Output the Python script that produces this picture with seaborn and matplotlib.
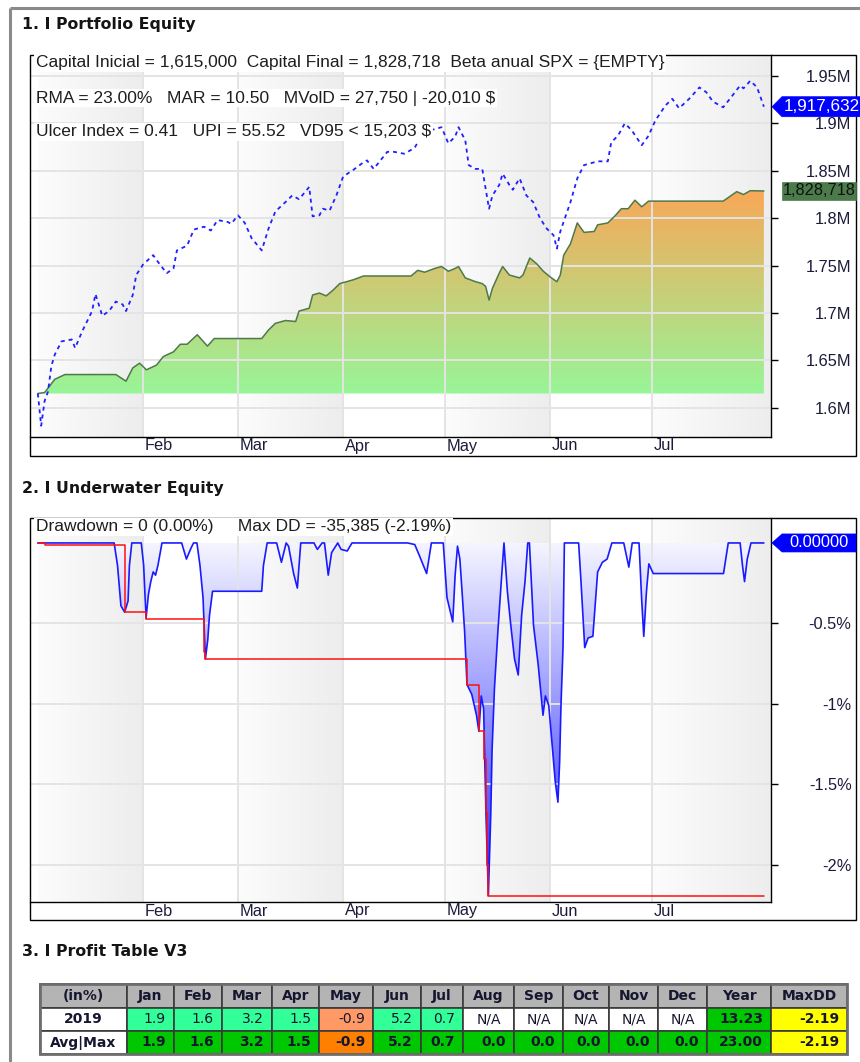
import numpy as np
import pandas as pd
import matplotlib
matplotlib.use('Agg')
import matplotlib.pyplot as plt
import matplotlib.dates as mdates
from matplotlib.colors import LinearSegmentedColormap
from matplotlib.patches import Rectangle, Polygon
import seaborn as sns

sns.set_style('white')
plt.rcParams['font.family'] = ['Liberation Sans', 'DejaVu Sans']

# ---------------- data ----------------
# days counted from 2019-01-01
eq_day = [0, 2, 5, 8, 23, 26, 28, 30, 32, 35, 37, 40, 42, 44, 47, 50, 52, 66, 68, 70,
          73, 76, 77, 80, 81, 83, 85, 87, 89, 93, 96, 110, 112, 114, 117, 119, 121, 123, 124, 126,
          129, 131, 132, 133, 134, 136, 137, 139, 142, 143, 145, 147, 149, 151, 153, 154, 155, 157, 159, 161,
          164, 165, 168, 170, 172, 174, 176, 178, 180, 202, 204, 206, 208, 210, 214]
eq_val = [1615000, 1616000, 1630000, 1635000, 1635000, 1628000, 1642000, 1647000, 1640000, 1645000,
          1654000, 1659000, 1667000, 1667000, 1677000, 1665000, 1673000, 1673000, 1682000, 1689000,
          1692000, 1691000, 1702000, 1705000, 1719000, 1721000, 1718000, 1724000, 1731000, 1735000,
          1739000, 1739000, 1745000, 1743000, 1747000, 1749000, 1744000, 1747000, 1749000, 1737000,
          1733000, 1731000, 1728000, 1713600, 1726000, 1742000, 1749000, 1740000, 1737000, 1740000,
          1758000, 1752000, 1744000, 1738000, 1733000, 1740000, 1761000, 1773000, 1795000, 1785000,
          1786000, 1793000, 1795000, 1802000, 1810000, 1810000, 1819000, 1812000, 1818000, 1818000,
          1823000, 1828000, 1825000, 1829000, 1828718]

bench_day = [0, 1, 2, 3, 4, 5, 7, 10, 11, 13, 16, 17, 19, 21, 23, 25, 26, 28, 29, 31,
             34, 36, 38, 40, 41, 44, 46, 49, 51, 53, 56, 57, 59, 61, 63, 66, 68, 70, 73, 75,
             77, 80, 81, 83, 84, 86, 88, 90, 93, 96, 97, 99, 101, 103, 105, 108, 111, 113, 116, 119,
             121, 123, 124, 126, 127, 129, 131, 133, 134, 136, 137, 139, 140, 142, 144, 146, 148, 150, 152, 153,
             154, 157, 159, 161, 163, 165, 168, 169, 171, 173, 175, 178, 180, 182, 185, 187, 189, 192, 195, 197,
             199, 202, 204, 207, 208, 210, 212, 214]
bench_val = [1615000, 1581000, 1607000, 1617000, 1644000, 1656000, 1670000, 1672000, 1663000, 1680000,
             1702000, 1720000, 1697000, 1702000, 1712000, 1709000, 1702000, 1719000, 1740000, 1751000,
             1761000, 1751000, 1742000, 1747000, 1766000, 1771000, 1788000, 1791000, 1787000, 1798000,
             1796000, 1794000, 1803000, 1795000, 1779000, 1766000, 1789000, 1807000, 1817000, 1824000,
             1820000, 1833000, 1802000, 1803000, 1810000, 1808000, 1824000, 1844000, 1851000, 1859000,
             1861000, 1852000, 1861000, 1870000, 1870000, 1868000, 1874000, 1886000, 1893000, 1896000,
             1879000, 1886000, 1896000, 1882000, 1856000, 1852000, 1852000, 1810000, 1824000, 1835000,
             1847000, 1835000, 1830000, 1842000, 1824000, 1817000, 1800000, 1789000, 1782000, 1768000,
             1786000, 1817000, 1842000, 1856000, 1858000, 1860000, 1860000, 1880000, 1887000, 1900000,
             1893000, 1877000, 1887000, 1903000, 1919000, 1926000, 1916000, 1926000, 1938000, 1933000,
             1923000, 1917000, 1926000, 1940000, 1937000, 1945000, 1938000, 1917632]

dd_day = [0.0, 22.5, 23.5, 24.5, 25.6, 26.6, 27.0, 27.7, 30.5, 31.2,
          31.9, 32.6, 33.3, 34.0, 34.7, 35.4, 36.6, 42.4, 43.8, 45.2,
          45.9, 46.9, 47.8, 48.7, 49.4, 50.1, 50.6, 51.5, 66.0, 66.5,
          67.6, 70.4, 71.8, 73.2, 73.9, 75.4, 76.5, 77.5, 81.4, 82.4,
          83.8, 84.5, 85.6, 86.6, 88.4, 89.4, 91.2, 92.6, 109.0, 111.1,
          112.5, 114.6, 116.0, 119.5, 120.6, 122.3, 123.0, 123.7, 124.4, 125.1,
          125.8, 126.5, 127.9, 129.3, 130.0, 130.7, 131.4, 132.1, 132.8, 133.5,
          133.9, 134.6, 135.6, 136.6, 137.4, 138.4, 139.4, 140.5, 141.6, 142.6,
          143.6, 144.4, 144.9, 146.1, 147.5, 148.9, 149.6, 150.6, 151.7, 152.5,
          153.3, 153.8, 154.2, 154.8, 155.2, 159.4, 160.1, 161.2, 162.2, 163.6,
          165.0, 166.4, 167.8, 169.2, 172.7, 174.2, 175.2, 177.2, 178.0, 178.6,
          179.4, 180.1, 181.4, 202.1, 203.5, 207.0, 207.7, 208.3, 209.1, 210.2,
          214.0]
dd_pct = [0, 0, -0.14, -0.39, -0.43, -0.36, -0.14, 0, 0, -0.14,
          -0.47, -0.32, -0.24, -0.18, -0.20, -0.14, 0, 0, -0.10, -0.03,
          0, 0, -0.14, -0.34, -0.72, -0.60, -0.45, -0.30, -0.30, -0.14,
          0, 0, -0.12, 0, -0.02, -0.19, -0.28, 0, 0, -0.04,
          0, 0, -0.20, -0.06, 0, -0.04, -0.05, 0, 0, -0.01,
          -0.08, -0.19, 0, 0, -0.34, -0.49, -0.20, -0.02, -0.10, -0.32,
          -0.55, -0.88, -0.94, -1.07, -1.17, -0.95, -1.03, -1.69, -2.19, -1.69,
          -1.28, -0.90, -0.55, -0.24, 0, -0.30, -0.51, -0.72, -0.82, -0.45,
          -0.24, 0, 0, -0.51, -0.76, -1.07, -0.95, -1.01, -1.28, -1.48,
          -1.61, -1.36, -1.01, -0.65, 0, 0, -0.24, -0.65, -0.59, -0.58,
          -0.18, -0.12, -0.10, 0, 0, -0.15, 0, 0, -0.36, -0.58,
          -0.30, -0.13, -0.19, -0.19, 0, 0, -0.14, -0.24, -0.10, 0,
          0]

maxdd_day = [0.0, 2.0, 25.6, 31.9, 49.0, 49.4, 126.5, 130.0, 131.6, 132.1, 132.5, 132.8, 214.0]
maxdd_pct = [0, -0.01, -0.43, -0.47, -0.68, -0.72, -0.88, -1.17, -1.34, -1.67, -2.00, -2.19, -2.19]

capital_inicial = 1615000

table_header = ['(in%)', 'Jan', 'Feb', 'Mar', 'Apr', 'May', 'Jun', 'Jul',
                'Aug', 'Sep', 'Oct', 'Nov', 'Dec', 'Year', 'MaxDD']
months_2019 = [1.9, 1.6, 3.2, 1.5, -0.9, 5.2, 0.7, None, None, None, None, None]
year_2019 = 13.23
maxdd_2019 = -2.19
months_avg = [1.9, 1.6, 3.2, 1.5, -0.9, 5.2, 0.7, 0.0, 0.0, 0.0, 0.0, 0.0]
year_avg = 23.00
maxdd_avg = -2.19

# ---------------- layout ----------------
W, H = 860, 1062
start = pd.Timestamp('2019-01-01')
month_starts = pd.date_range('2019-01-01', '2019-08-01', freq='MS')
x_lo = mdates.date2num(start - pd.Timedelta(days=2.3))
x_hi = mdates.date2num(start + pd.Timedelta(days=216.1))
label_color = '#1c1c3a'
txt_size = 11.8


def to_dates(days):
    return start + pd.to_timedelta(np.asarray(days, dtype=float), unit='D')


def px_rect(x0, y0, x1, y1):
    return [x0 / W, 1 - y1 / H, (x1 - x0) / W, (y1 - y0) / H]


band_cmap = LinearSegmentedColormap.from_list('band', ['#fcfcfc', '#ededed'])
band_grad = np.linspace(0, 1, 64).reshape(1, -1)


def dress_axes(ax, ylim, yticks, ylabels):
    for i in range(0, 7, 2):
        b0 = max(mdates.date2num(month_starts[i]), x_lo)
        b1 = x_hi if i == 6 else mdates.date2num(month_starts[i + 1])
        ax.imshow(band_grad, extent=[b0, b1, ylim[0], ylim[1]], cmap=band_cmap,
                  aspect='auto', zorder=0, interpolation='bicubic')
    ax.set_xlim(x_lo, x_hi)
    ax.set_ylim(*ylim)
    ax.set_axisbelow(True)
    ax.grid(True, color='#e4e4e4', lw=1.4)
    ax.set_xticks(mdates.date2num(month_starts[1:7]))
    ax.set_xticklabels([])
    ax.tick_params(axis='x', direction='out', length=5, width=1, color='black')
    ax.yaxis.tick_right()
    ax.set_yticks(yticks)
    ax.set_yticklabels(ylabels)
    ax.tick_params(axis='y', direction='out', length=5, width=1, color='black',
                   pad=53, labelsize=txt_size, labelcolor=label_color)
    for lab in ax.get_yticklabels():
        lab.set_horizontalalignment('right')
    for s in ['left', 'top']:
        ax.spines[s].set_visible(False)
    for s in ['right', 'bottom']:
        ax.spines[s].set_color('black')
        ax.spines[s].set_linewidth(1)
    ax.set_xlabel('')
    ax.set_ylabel('')


fig = plt.figure(figsize=(W / 100, H / 100), dpi=100)

# ---------------- 1. Portfolio equity ----------------
ax1 = fig.add_axes(px_rect(30, 55, 771, 437))
eq_x = to_dates(eq_day)
poly = ax1.fill_between(eq_x, capital_inicial, eq_val, color='none', lw=0)
eq_cmap = LinearSegmentedColormap.from_list('eq', ['#98f598', '#f8a858'])
grad = np.linspace(0, 1, 256).reshape(-1, 1)
im = ax1.imshow(grad, extent=[mdates.date2num(eq_x[0]), mdates.date2num(eq_x[-1]),
                              capital_inicial, max(eq_val)],
                origin='lower', aspect='auto', cmap=eq_cmap, zorder=0.3)
im.set_clip_path(poly.get_paths()[0], transform=ax1.transData)
sns.lineplot(x=eq_x, y=eq_val, ax=ax1, color='#4d7a4d', lw=1.1, estimator=None, sort=False)
sns.lineplot(x=to_dates(bench_day), y=bench_val, ax=ax1, color='#2020ff', lw=1.3,
             estimator=None, sort=False)
ax1.lines[-1].set_dashes([2.2, 2.2])
eq_ticks = [1.6e6, 1.65e6, 1.7e6, 1.75e6, 1.8e6, 1.85e6, 1.9e6, 1.95e6]
dress_axes(ax1, (1.5691e6, 1.9722e6), eq_ticks, [f'{v / 1e6:g}M' for v in eq_ticks])

# ---------------- 2. Underwater equity ----------------
ax2 = fig.add_axes(px_rect(30, 518, 771, 902))
dd_x = to_dates(dd_day)
poly2 = ax2.fill_between(dd_x, 0, dd_pct, color='none', lw=0)
dd_cmap = LinearSegmentedColormap.from_list('dd', ['#2828ff', '#f5f5ff'])
im2 = ax2.imshow(grad, extent=[mdates.date2num(dd_x[0]), mdates.date2num(dd_x[-1]),
                               min(dd_pct), 0],
                 origin='lower', aspect='auto', cmap=dd_cmap, zorder=0.3)
im2.set_clip_path(poly2.get_paths()[0], transform=ax2.transData)
sns.lineplot(x=dd_x, y=dd_pct, ax=ax2, color='#1a1aff', lw=1.2, estimator=None, sort=False)
sns.lineplot(x=to_dates(maxdd_day), y=maxdd_pct, ax=ax2, color='#ff1010', lw=1.1,
             estimator=None, sort=False, drawstyle='steps-post')
dd_ticks = [-2, -1.5, -1, -0.5]
dress_axes(ax2, (-2.23, 0.155), dd_ticks, [f'{v:g}%' for v in dd_ticks])

# ---------------- overlay in pixel units ----------------
ov = fig.add_axes([0, 0, 1, 1], zorder=10)
ov.set_xlim(0, W)
ov.set_ylim(H, 0)
ov.axis('off')

# page frame
ov.plot([9.5, 9.5], [8, H], color='#8a8a8a', lw=2.2, solid_capstyle='butt')
ov.plot([9.5, W], [8, 8], color='#8a8a8a', lw=2.2, solid_capstyle='butt')

title_kw = dict(fontfamily='DejaVu Sans', fontweight='bold', fontsize=11.3,
                color='#141414', va='center', ha='left')
ov.text(22, 24, '1. I Portfolio Equity', **title_kw)
ov.text(22, 488, '2. I Underwater Equity', **title_kw)
ov.text(22, 952, '3. I Profit Table V3', **title_kw)

for (y0, y1) in [(55, 456), (518, 920)]:
    ov.add_patch(Rectangle((30, y0), 826, y1 - y0, fill=False, ec='black', lw=1))


def y_pixel(ax, value):
    return H - ax.transData.transform((x_lo, value))[1]


def x_pixel(ax, when):
    return ax.transData.transform((mdates.date2num(when), 0))[0]


# month labels in the strips
for ax in (ax1, ax2):
    y_axis_px = y_pixel(ax, ax.get_ylim()[0])
    for m in month_starts[1:7]:
        ov.text(x_pixel(ax, m) + 2, y_axis_px + 1.5, m.strftime('%b'), fontsize=txt_size,
                color=label_color, ha='left', va='top')

# stats text
box = dict(fc='white', ec='none', pad=1.2)
stat_kw = dict(fontsize=12.5, color='#1e1e1e', va='center', bbox=box)
ov.text(36, 63, f'Capital Inicial = {capital_inicial:,}  Capital Final = {eq_val[-1]:,}  '
        'Beta anual SPX = {EMPTY}', **stat_kw)
ov.text(36, 98, 'RMA = 23.00%   MAR = 10.50   MVolD = 27,750 | -20,010 $', **stat_kw)
ov.text(36, 132, 'Ulcer Index = 0.41   UPI = 55.52   VD95 < 15,203 $', **stat_kw)
ov.text(36, 527, 'Drawdown = 0 (0.00%)     Max DD = -35,385 (-2.19%)', **stat_kw)


def tag(y, x_left, x_right, half_h, face, pointed):
    if pointed:
        pts = [(x_left, y), (x_left + 10, y - half_h), (x_right, y - half_h),
               (x_right, y + half_h), (x_left + 10, y + half_h)]
    else:
        pts = [(x_left, y - half_h), (x_right, y - half_h),
               (x_right, y + half_h), (x_left, y + half_h)]
    ov.add_patch(Polygon(pts, closed=True, fc=face, ec=face, lw=0.5))


yb = y_pixel(ax1, bench_val[-1])
tag(yb, 772, 862, 10, '#0000ff', True)
ov.text(784, yb, f'{bench_val[-1]:,}', color='white', fontsize=12.3, va='center')
yg = y_pixel(ax1, eq_val[-1])
tag(yg, 782, 856, 9, '#4b7b4b', False)
ov.text(783, yg, f'{eq_val[-1]:,}', color='#101010', fontsize=txt_size, va='center')
yd = y_pixel(ax2, dd_pct[-1])
tag(yd, 772, 856, 9, '#0000ff', True)
ov.text(789, yd, f'{dd_pct[-1]:.5f}', color='white', fontsize=txt_size, va='center')

# ---------------- 3. Profit table ----------------
col_edges = [40, 127, 174, 222, 272, 319, 373, 421, 463, 514, 563, 609, 658, 707, 771, 847]
row_edges = [984, 1007.5, 1031, 1054]
tab_font = dict(fontfamily='DejaVu Sans', fontsize=10, color='#161630', va='center')


def cell(ci, ri, txt, face, bold=True, align='center'):
    x0, x1 = col_edges[ci], col_edges[ci + 1]
    y0, y1 = row_edges[ri], row_edges[ri + 1]
    ov.add_patch(Rectangle((x0, y0), x1 - x0, y1 - y0, fc=face, ec='#3a3a3a', lw=1.2))
    if align == 'right':
        ov.text(x1 - 8, (y0 + y1) / 2, txt, ha='right',
                fontweight='bold' if bold else 'normal', **tab_font)
    else:
        ov.text((x0 + x1) / 2, (y0 + y1) / 2, txt, ha='center',
                fontweight='bold' if bold else 'normal', **tab_font)


for ci, name in enumerate(table_header):
    cell(ci, 0, name, '#b4b4b4')

cell(0, 1, '2019', 'white')
for i, v in enumerate(months_2019):
    if v is None:
        cell(i + 1, 1, 'N/A', 'white', bold=False)
    else:
        cell(i + 1, 1, f'{v:.1f}', '#33ff99' if v >= 0 else '#ff9966', bold=False, align='right')
cell(13, 1, f'{year_2019:.2f}', '#00c800', align='right')
cell(14, 1, f'{maxdd_2019:.2f}', '#ffff00', align='right')

cell(0, 2, 'Avg|Max', 'white')
for i, v in enumerate(months_avg):
    cell(i + 1, 2, f'{v:.1f}', '#00c800' if v >= 0 else '#ff8000', align='right')
cell(13, 2, f'{year_avg:.2f}', '#00c800', align='right')
cell(14, 2, f'{maxdd_avg:.2f}', '#ffff00', align='right')
ov.add_patch(Rectangle((col_edges[0], row_edges[0]), col_edges[-1] - col_edges[0],
                       row_edges[-1] - row_edges[0], fill=False, ec='#6e6e6e', lw=2))

fig.savefig('out.png', dpi=100)
